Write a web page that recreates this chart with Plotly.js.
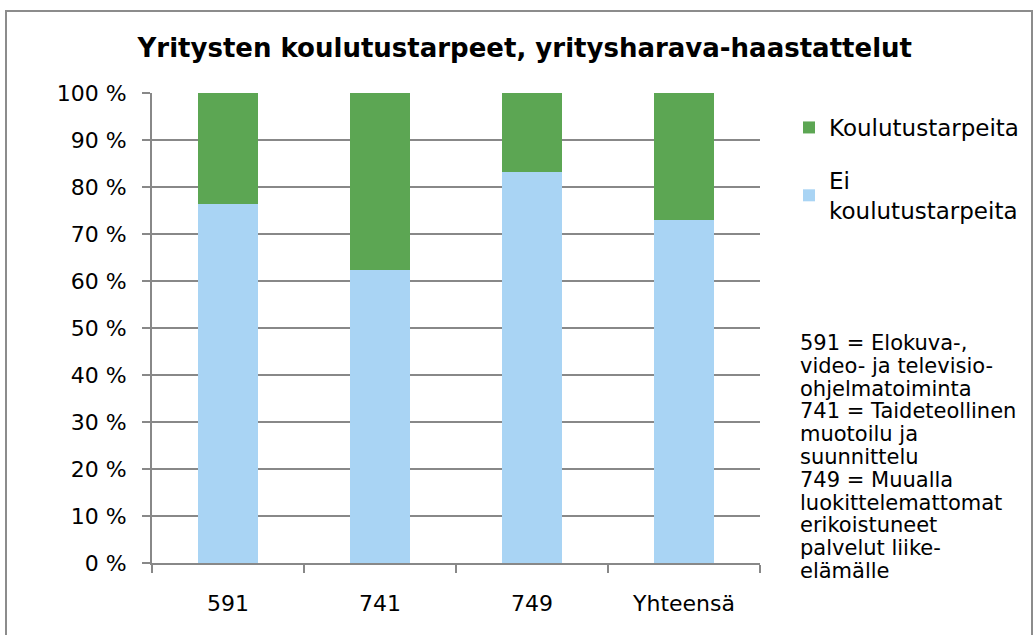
<!DOCTYPE html>
<html>
<head>
<meta charset="utf-8">
<script src="https://cdn.plot.ly/plotly-3.0.1.min.js"></script>
<style>
html,body{margin:0;padding:0;background:#fff;}
#wrap{position:relative;width:1035px;height:635px;overflow:hidden;}
#frame{position:absolute;left:5px;top:10px;width:1028px;height:640px;border:2px solid #8c8c8c;box-sizing:border-box;pointer-events:none;}
#chart{position:absolute;left:0;top:0;width:1035px;height:635px;}
</style>
</head>
<body>
<div id="wrap">
<div id="chart"></div>
<div id="frame"></div>
</div>
<script>
const categories = ["591", "741", "749", "Yhteensä"];
const eiKoulutustarpeita = [76.4, 62.3, 83.2, 73.0];
const koulutustarpeita = [23.6, 37.7, 16.8, 27.0];
const yTickValues = [0, 10, 20, 30, 40, 50, 60, 70, 80, 90, 100];
const yTickLabels = ["0 %", "10 %", "20 %", "30 %", "40 %", "50 %", "60 %", "70 %", "80 %", "90 %", "100 %"];
const chartTitle = "Yritysten koulutustarpeet, yritysharava-haastattelut";
const noteLines = [
  "591 = Elokuva-,",
  "video- ja televisio-",
  "ohjelmatoiminta",
  "741 = Taideteollinen",
  "muotoilu ja",
  "suunnittelu",
  "749 = Muualla",
  "luokittelemattomat",
  "erikoistuneet",
  "palvelut liike-",
  "elämälle"
];

const font = "'DejaVu Sans', Verdana, sans-serif";

const traces = [
  {
    type: "bar", name: "Ei<br>koulutustarpeita",
    x: categories, y: eiKoulutustarpeita,
    marker: {color: "#A9D4F4"},
    legendrank: 2, legendgroup: "b"
  },
  {
    type: "bar", name: "Koulutustarpeita",
    x: categories, y: koulutustarpeita,
    marker: {color: "#5CA653"},
    legendrank: 1, legendgroup: "a"
  }
];

const W = 1035, H = 635;
const plotLeft = 152, plotRight = 760, plotTop = 93, plotBottom = 563;
const paperW = W - plotLeft, plotH = plotBottom - plotTop;
const px2x = (px) => (px - plotLeft) / paperW;
const px2y = (py) => (plotBottom - py) / plotH;

const noteFirstY = 343, noteStep = 22.8, noteX = 798;
const noteAnnotations = noteLines.map((line, i) => ({
  xref: "paper", yref: "paper",
  x: px2x(noteX), y: px2y(noteFirstY + noteStep * i),
  xanchor: "left", yanchor: "middle",
  align: "left", showarrow: false,
  text: line,
  font: {family: font, size: 21, color: "#000"}
}));

const layout = {
  width: W, height: H,
  margin: {l: plotLeft, r: 0, t: plotTop, b: H - plotBottom, autoexpand: false},
  paper_bgcolor: "#fff", plot_bgcolor: "#fff",
  barmode: "stack",
  bargap: 0.605,
  title: {
    text: "<b>" + chartTitle + "</b>",
    font: {family: font, size: 26, color: "#000"},
    x: 0.507, xanchor: "center", y: 0.924, yanchor: "middle"
  },
  xaxis: {
    type: "category",
    domain: [0, px2x(plotRight)],
    showline: true, linecolor: "#888", linewidth: 2,
    ticks: "outside", tickson: "boundaries", ticklen: 8, tickcolor: "#888", tickwidth: 1.5,
    tickfont: {family: font, size: 22, color: "#000"},
    ticklabelstandoff: 20,
    showgrid: false, zeroline: false, fixedrange: true
  },
  yaxis: {
    range: [0, 100],
    tickmode: "array", tickvals: yTickValues, ticktext: yTickLabels,
    showline: true, linecolor: "#888", linewidth: 2,
    ticks: "outside", ticklen: 8, tickcolor: "#888", tickwidth: 1.5,
    tickfont: {family: font, size: 22, color: "#000"},
    ticklabelstandoff: 11,
    showgrid: true, gridcolor: "#888", gridwidth: 1.5,
    zeroline: false, fixedrange: true
  },
  legend: {
    x: px2x(789), xanchor: "left", y: px2y(106), yanchor: "top",
    font: {family: font, size: 23, color: "#000"},
    itemwidth: 30, tracegroupgap: 20, traceorder: "grouped",
    bgcolor: "rgba(0,0,0,0)"
  },
  annotations: noteAnnotations
};

Plotly.newPlot("chart", traces, layout, {displayModeBar: false, staticPlot: true});
</script>
</body>
</html>
